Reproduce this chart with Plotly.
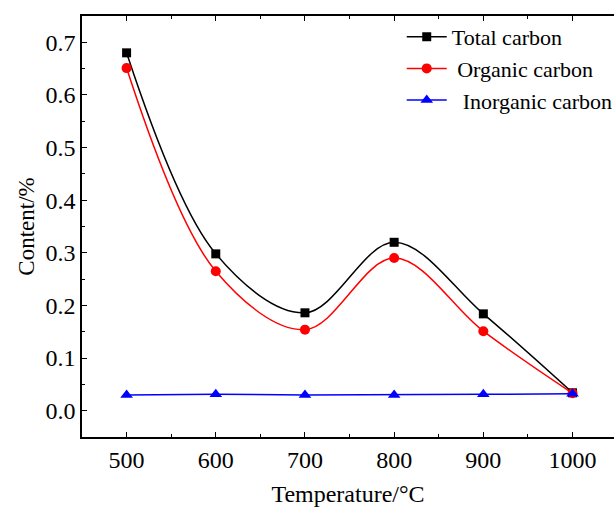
import plotly.graph_objects as go

temperature = [500, 600, 700, 800, 900, 1000]
total_carbon = [0.680, 0.298, 0.186, 0.320, 0.184, 0.034]
organic_carbon = [0.651, 0.265, 0.154, 0.290, 0.151, 0.033]
inorganic_carbon = [0.030, 0.031, 0.030, 0.030, 0.031, 0.032]

x_ticks = [500, 600, 700, 800, 900, 1000]
y_ticks = [0.0, 0.1, 0.2, 0.3, 0.4, 0.5, 0.6, 0.7]

font_family = "Liberation Serif, Times New Roman, serif"

fig = go.Figure()
fig.add_trace(go.Scatter(
    x=temperature, y=total_carbon, name="Total carbon", mode="lines+markers",
    line=dict(color="black", width=1.5, shape="spline", smoothing=1.0),
    marker=dict(symbol="square", size=9, color="black")))
fig.add_trace(go.Scatter(
    x=temperature, y=organic_carbon, name=" Organic carbon", mode="lines+markers",
    line=dict(color="red", width=1.5, shape="spline", smoothing=1.0),
    marker=dict(symbol="circle", size=10, color="red")))
fig.add_trace(go.Scatter(
    x=temperature, y=inorganic_carbon, name="  Inorganic carbon", mode="lines+markers",
    line=dict(color="blue", width=1.5),
    marker=dict(symbol="triangle-up", size=11, color="blue")))

fig.update_layout(
    width=614, height=507, autosize=False,
    margin=dict(l=82, r=0, t=16, b=70, autoexpand=False),
    paper_bgcolor="white", plot_bgcolor="white",
    font=dict(family=font_family, size=24, color="black"),
    showlegend=True,
    legend=dict(x=0.601, y=1.0, xanchor="left", yanchor="top",
                bgcolor="rgba(0,0,0,0)", font=dict(size=22),
                tracegroupgap=0, itemwidth=40),
)
fig.update_xaxes(
    range=[450, 1046.5], tickvals=x_ticks, ticktext=[str(v) for v in x_ticks],
    showline=True, linecolor="black", linewidth=1.5, mirror="ticks",
    ticks="inside", ticklen=5, tickcolor="black", showgrid=False, zeroline=False,
    automargin=False,
    minor=dict(dtick=50, tick0=450, ticks="inside", ticklen=3, tickcolor="black", showgrid=False),
    title=dict(text="Temperature/°C", standoff=14, font=dict(size=24)),
    tickfont=dict(size=24),
)
fig.update_yaxes(
    range=[-0.05, 0.75], tickvals=y_ticks, ticktext=[f"{v:.1f}" for v in y_ticks],
    showline=True, linecolor="black", linewidth=1.5, mirror=False,
    ticks="inside", ticklen=5, tickcolor="black", showgrid=False, zeroline=False,
    automargin=False,
    minor=dict(dtick=0.05, tick0=0, ticks="inside", ticklen=3, tickcolor="black", showgrid=False),
    title=dict(text="Content/%", standoff=4, font=dict(size=23)),
    tickfont=dict(size=24),
)

fig.write_html("out.html",
               config={"displayModeBar": False},
               post_script="document.body.style.margin='0';document.body.style.overflow='hidden';")
